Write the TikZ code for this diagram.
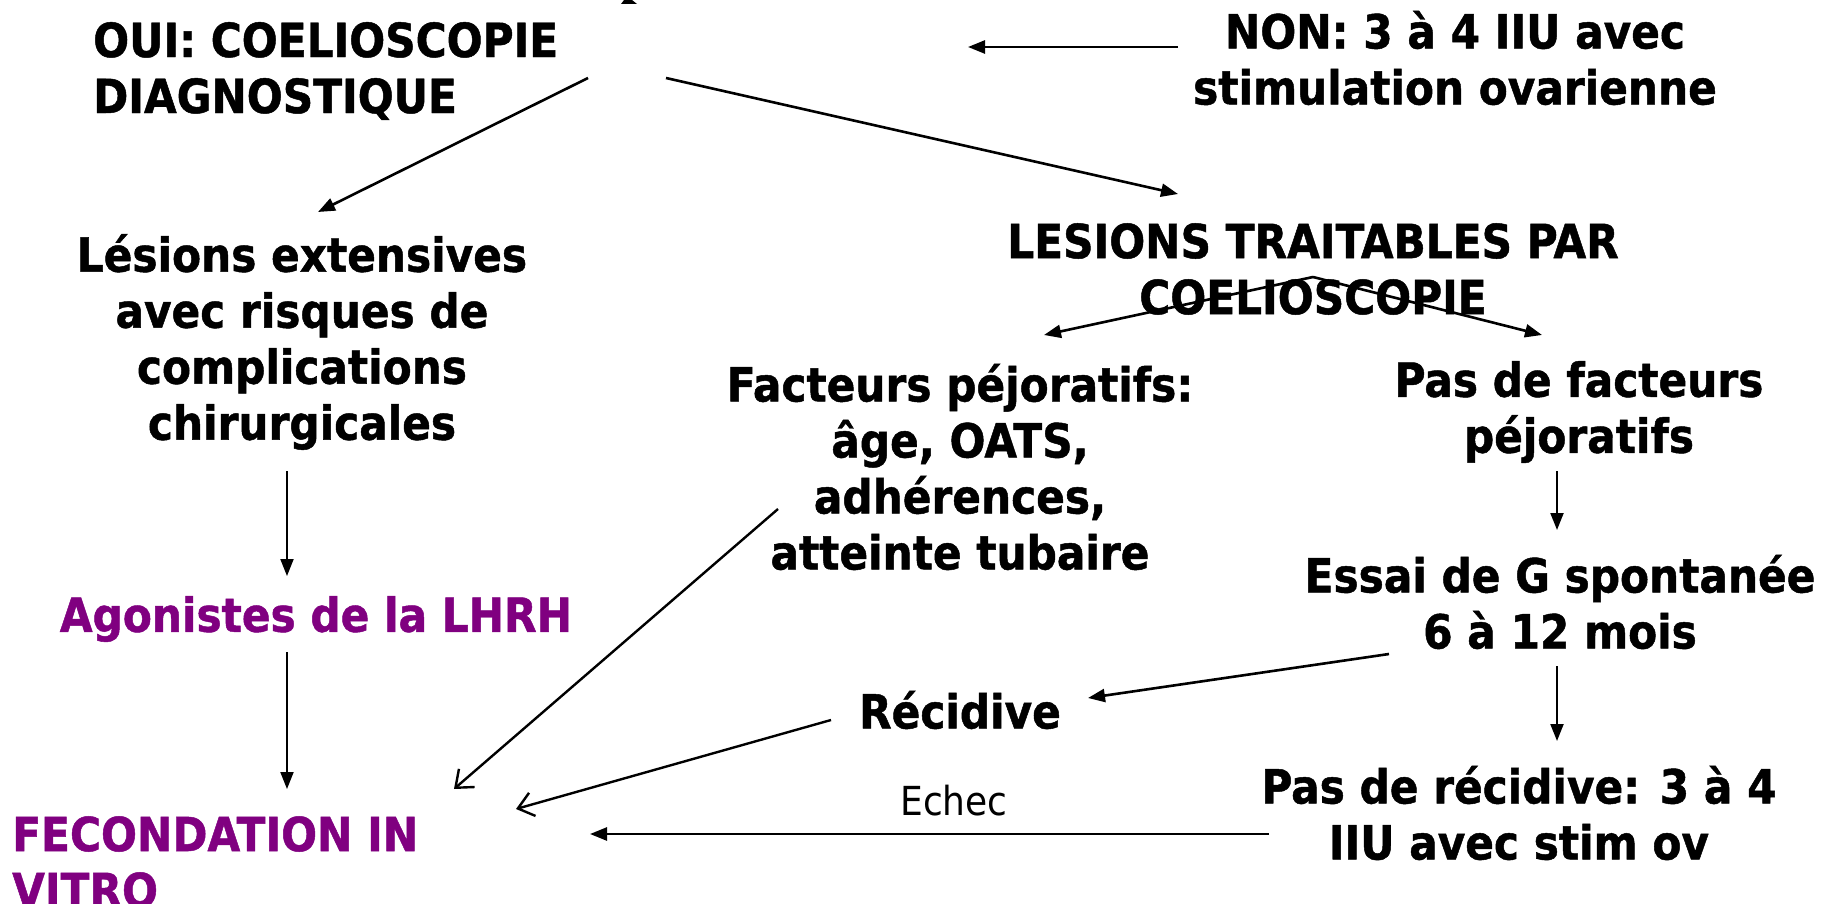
\documentclass[tikz,border=0pt]{standalone}
\usepackage{fontspec}
\setmainfont{DejaVu Sans Condensed}[BoldFeatures={FakeBold=1}]
\usetikzlibrary{arrows.meta}
\definecolor{violet}{HTML}{800080}
\begin{document}
\begin{tikzpicture}[x=1pt,y=-1pt,
  txt/.style={inner sep=0pt,font=\fontsize{47}{56}\selectfont\bfseries,align=center},
  arr/.style={line width=2.6pt,-{Triangle[length=17pt,width=13pt]}},
  thin/.style={line width=2pt},
  arro/.style={line width=2.4pt,-{Straight Barb[length=15pt,width=24pt,line width=2.4pt]}}]
\useasboundingbox (0,0) rectangle (1825,904);
\fill[white] (0,0) rectangle (1825,904);

\node[txt,anchor=west,align=left] (oui) at (93,71) {OUI: COELIOSCOPIE\\DIAGNOSTIQUE};
\node[txt] (non) at (1455,58) {NON: 3 à 4 IIU avec\\stimulation ovarienne};
\node[txt] (lesext) at (302,342) {Lésions extensives\\avec risques de\\complications\\chirurgicales};
\node[txt,text=violet] (agon) at (316,619) {Agonistes de la LHRH};
\node[txt,text=violet,anchor=west,align=left] (fiv) at (12,862) {FECONDATION IN\\VITRO};
\node[txt] (lt) at (1313,269) {LESIONS TRAITABLES PAR\\COELIOSCOPIE};
\node[txt] (fp) at (960,467) {Facteurs péjoratifs:\\âge, OATS,\\adhérences,\\atteinte tubaire};
\node[txt] (pdf) at (1579,412) {Pas de facteurs\\péjoratifs};
\node[txt] (essai) at (1560,602) {Essai de G spontanée\\6 à 12 mois};
\node[txt] (recid) at (960,710) {Récidive};
\node[txt] (pdr) at (1519,813) {Pas de récidive: 3 à 4\\IIU avec stim ov};
\node[inner sep=0pt,font=\fontsize{40}{46}\selectfont] (echec) at (954,801) {Echec};

% fragment at top
\fill (621,4) -- (624,0) -- (632,0) -- (637,4) -- cycle;

% connector end points
\coordinate (nonS) at (1178,47);  \coordinate (nonE) at (968,47);
\coordinate (o1S) at (588,78);    \coordinate (o1E) at (318,212);
\coordinate (o2S) at (666,78);    \coordinate (o2E) at (1178,194);
\coordinate (leS) at (287,471);   \coordinate (leE) at (287,576);
\coordinate (agS) at (287,652);   \coordinate (agE) at (287,789);
\coordinate (ltA) at (1313,277);
\coordinate (ltL) at (1044,335);  \coordinate (ltR) at (1542,335);
\coordinate (pfS) at (1557,471);  \coordinate (pfE) at (1557,530);
\coordinate (esS) at (1557,666);  \coordinate (esE) at (1557,741);
\coordinate (erS) at (1389,654);  \coordinate (erE) at (1088,698);
\coordinate (fpS) at (778,509);   \coordinate (fpE) at (454,789);
\coordinate (reS) at (831,720);   \coordinate (reE) at (516,809);
\coordinate (pdS) at (1269,834);  \coordinate (pdE) at (590,834);

\draw[arr] (nonS) -- (nonE);
\draw[arr] (o1S) -- (o1E);
\draw[arr] (o2S) -- (o2E);
\draw[arr,thin] (leS) -- (leE);
\draw[arr,thin] (agS) -- (agE);
\draw[arr] (ltA) -- (ltL);
\draw[arr] (ltA) -- (ltR);
\draw[arr,thin] (pfS) -- (pfE);
\draw[arr,thin] (esS) -- (esE);
\draw[arr] (erS) -- (erE);
\draw[arro] (fpS) -- (fpE);
\draw[arro] (reS) -- (reE);
\draw[arr] (pdS) -- (pdE);
\end{tikzpicture}
\end{document}
